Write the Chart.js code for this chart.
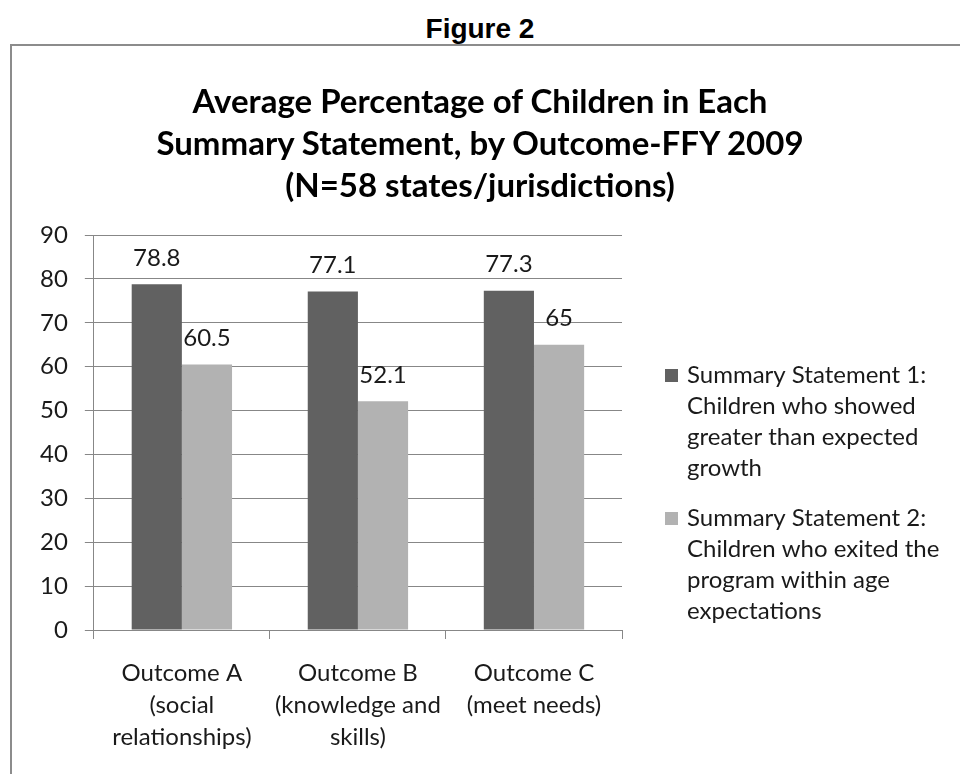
<!DOCTYPE html>
<html>
<head>
<meta charset="utf-8">
<title>Figure 2</title>
<script src="https://cdn.jsdelivr.net/npm/chart.js@4.4.1/dist/chart.umd.min.js"></script>
<style>
  body { margin: 0; width: 960px; height: 774px; overflow: hidden; position: relative; background: #fff; }
  #fig { position: absolute; top: 13px; left: 0; width: 960px; text-align: center; line-height: 32px;
         font: bold 28px 'Liberation Sans', Arial, sans-serif; color: #000; }
  #frame { position: absolute; left: 10px; top: 44px; width: 960px; height: 740px;
           border-top: 2px solid #8c8c8c; border-left: 2px solid #8c8c8c; }
  #chart { position: absolute; left: 0; top: 0; }
  #title { position: absolute; left: 0; top: 79px; width: 960px; text-align: center;
           font: bold 33px Lato, sans-serif; line-height: 42px; color: #000; }
</style>
</head>
<body>
<div id="fig">Figure 2</div>
<div id="frame"><canvas id="chart" width="948" height="728"></canvas></div>
<div id="title"></div>
<script>
const categories = [
  ['Outcome A', '(social', 'relationships)'],
  ['Outcome B', '(knowledge and', 'skills)'],
  ['Outcome C', '(meet needs)']
];
const statement1 = [78.8, 77.1, 77.3];
const statement2 = [60.5, 52.1, 65];
const seriesNames = ['Summary Statement 1: Children who showed greater than expected growth',
                     'Summary Statement 2: Children who exited the program within age expectations'];
const legendLines = [
  ['Summary Statement 1:', 'Children who showed', 'greater than expected', 'growth'],
  ['Summary Statement 2:', 'Children who exited the', 'program within age', 'expectations']
];
const yMin = 0, yMax = 90, yStep = 10;
const titleLines = ['Average Percentage of Children in Each',
                    'Summary Statement, by Outcome-FFY 2009',
                    '(N=58 states/jurisdictions)'];

document.getElementById('title').innerHTML = titleLines.join('<br>');

const FONT = 'Lato';
const TEXT = '#1a1a1a';
const GRID = '#878787';

// numbers above each bar
const valueLabels = {
  id: 'valueLabels',
  afterDatasetsDraw(chart) {
    const ctx = chart.ctx;
    ctx.save();
    ctx.font = '24px ' + FONT;
    ctx.fillStyle = TEXT;
    ctx.textAlign = 'center';
    ctx.textBaseline = 'middle';
    chart.data.datasets.forEach((ds, i) => {
      chart.getDatasetMeta(i).data.forEach((bar, j) => {
        ctx.fillText(String(ds.data[j]), bar.x, bar.y - 26);
      });
    });
    ctx.restore();
  }
};

// wrapped legend on the right side
const sideLegend = {
  id: 'sideLegend',
  afterDraw(chart) {
    const ctx = chart.ctx;
    const area = chart.chartArea;
    const x = area.right + 43;
    let y = area.top + 140;
    ctx.save();
    ctx.font = '24px ' + FONT;
    ctx.textAlign = 'left';
    ctx.textBaseline = 'middle';
    legendLines.forEach((lines, i) => {
      ctx.fillStyle = chart.data.datasets[i].backgroundColor;
      ctx.fillRect(x, y - 6, 13, 13);
      ctx.fillStyle = TEXT;
      lines.forEach(line => {
        ctx.fillText(line, x + 22, y);
        y += 31;
      });
      y += 19;
    });
    ctx.restore();
  }
};

new Chart(document.getElementById('chart'), {
  type: 'bar',
  data: {
    labels: categories,
    datasets: [
      { label: seriesNames[0], data: statement1, backgroundColor: '#616161' },
      { label: seriesNames[1], data: statement2, backgroundColor: '#b2b2b2' }
    ]
  },
  options: {
    responsive: false,
    animation: false,
    categoryPercentage: 0.57,
    barPercentage: 1,
    layout: { padding: { left: 11, right: 338, top: 189, bottom: 3 } },
    plugins: {
      legend: { display: false },
      tooltip: { enabled: false },
      title: { display: false }
    },
    scales: {
      x: {
        grid: { drawOnChartArea: false, color: GRID, tickLength: 9 },
        border: { color: GRID },
        ticks: { color: TEXT, font: { family: FONT, size: 24, lineHeight: 32 / 24 }, padding: 18 }
      },
      y: {
        min: yMin, max: yMax,
        grid: { color: GRID, tickLength: 9 },
        border: { color: GRID },
        ticks: { stepSize: yStep, color: TEXT, font: { family: FONT, size: 24 }, padding: 17 }
      }
    }
  },
  plugins: [valueLabels, sideLegend]
});
</script>
</body>
</html>
